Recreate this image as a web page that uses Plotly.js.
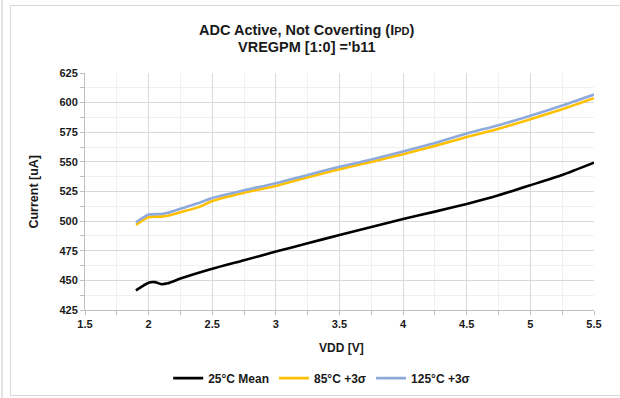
<!DOCTYPE html>
<html>
<head>
<meta charset="utf-8">
<script src="https://cdn.plot.ly/plotly-3.0.1.min.js"></script>
<style>
html,body{margin:0;padding:0;background:#fff;}
#wrap{position:relative;width:620px;height:398px;overflow:hidden;}
#strip{position:absolute;left:1px;top:0;width:2px;height:398px;background:#e2e2e2;}
#frame{position:absolute;left:10px;top:5px;width:640px;height:389px;border:1px solid #d9d9d9;}
#chart{position:absolute;left:0;top:0;width:620px;height:398px;}
</style>
</head>
<body>
<div id="wrap">
<div id="strip"></div>
<div id="frame"></div>
<div id="chart"></div>
</div>
<script>
const vdd25 = [1.9, 2.0, 2.05, 2.1, 2.15, 2.25, 2.5, 2.75, 3.0, 3.25, 3.5, 3.75, 4.0, 4.25, 4.5, 4.75, 5.0, 5.25, 5.5];
const mean25 = [441.5, 448, 448.5, 446.8, 447.5, 451.5, 459.8, 467, 474.3, 481.3, 488.3, 495, 501.8, 508, 514.5, 521.8, 530.3, 539, 549.4];

const vddHot = [1.9, 1.95, 2.0, 2.1, 2.15, 2.25, 2.4, 2.5, 2.75, 3.0, 3.25, 3.5, 3.75, 4.0, 4.25, 4.5, 4.75, 5.0, 5.25, 5.5];
const sig85 = [496.8, 500.5, 503.5, 503.8, 504.5, 507.5, 512, 517, 524, 529.7, 537, 543.8, 550, 556.5, 563.5, 571, 578, 586, 594.5, 603.8];
const sig125 = [499, 502.5, 505.5, 506, 507, 510.5, 515.5, 519.5, 526, 532, 539, 545.8, 552, 558.7, 566, 574, 581, 589, 597.5, 606.8];

const seriesNames = ["25°C Mean", "85°C +3σ", "125°C +3σ"];
const xTicks = [1.5, 2, 2.5, 3, 3.5, 4, 4.5, 5, 5.5];
const yTicks = [425, 450, 475, 500, 525, 550, 575, 600, 625];
const titleLines = ["ADC Active, Not Coverting (I<span style='font-size:11px'>PD</span>)", "VREGPM [1:0] ='b11"];
const xTitle = "VDD [V]";
const yTitle = "Current [uA]";

const FONT = "'Liberation Sans', Arial, sans-serif";
const txt = "#1a1a1a";

const traces = [
  {x: vdd25, y: mean25, name: seriesNames[0], mode: "lines",
   line: {color: "#000000", width: 2.6, shape: "spline", smoothing: 0.6}},
  {x: vddHot, y: sig85, name: seriesNames[1], mode: "lines",
   line: {color: "#FFC000", width: 2.6, shape: "spline", smoothing: 0.6}},
  {x: vddHot, y: sig125, name: seriesNames[2], mode: "lines",
   line: {color: "#8EA9DB", width: 2.6, shape: "spline", smoothing: 0.6}}
];

function ann(text, x, y, size, angle) {
  return {text: "<b>" + text + "</b>", xref: "paper", yref: "paper", x: x, y: y,
    xanchor: "center", yanchor: "middle", showarrow: false, textangle: angle || 0,
    font: {family: FONT, size: size, color: txt}};
}

const layout = {
  width: 620, height: 398,
  margin: {l: 85, r: 26, t: 73, b: 88},
  paper_bgcolor: "rgba(0,0,0,0)",
  plot_bgcolor: "rgba(0,0,0,0)",
  font: {family: FONT, color: txt},
  annotations: [
    ann(titleLines[0], 0.436, 1.181, 14.5),
    ann(titleLines[1], 0.436, 1.11, 14.5),
    ann(xTitle, 0.503, -0.16, 12),
    ann(yTitle, -0.102, 0.5, 12.5, -90)
  ],
  xaxis: {
    range: [1.5, 5.5],
    tickvals: xTicks,
    ticktext: xTicks.map(String),
    automargin: false,
    showgrid: true, gridcolor: "#d9d9d9", gridwidth: 1,
    minor: {dtick: 0.25, showgrid: true, gridcolor: "#f0f0f0", ticks: "outside", ticklen: 4, tickcolor: "#bfbfbf"},
    ticks: "outside", ticklen: 4, tickcolor: "#bfbfbf",
    showline: true, linecolor: "#bfbfbf", linewidth: 1,
    zeroline: false,
    tickfont: {family: FONT, size: 11, color: txt, weight: "bold"}
  },
  yaxis: {
    range: [425, 625],
    tickvals: yTicks,
    ticktext: yTicks.map(String),
    automargin: false,
    showgrid: true, gridcolor: "#d9d9d9", gridwidth: 1,
    minor: {dtick: 12.5, showgrid: true, gridcolor: "#f0f0f0", ticks: "outside", ticklen: 4, tickcolor: "#bfbfbf"},
    ticks: "outside", ticklen: 4, tickcolor: "#bfbfbf",
    showline: true, linecolor: "#bfbfbf", linewidth: 1,
    zeroline: false,
    tickfont: {family: FONT, size: 11, color: txt, weight: "bold"}
  },
  showlegend: true,
  legend: {
    orientation: "h",
    x: 0.465, xref: "paper", xanchor: "center",
    y: 0.05, yref: "container", yanchor: "middle",
    font: {family: FONT, size: 12, color: txt, weight: "bold"},
    itemwidth: 30,
    bgcolor: "rgba(0,0,0,0)"
  }
};

Plotly.newPlot("chart", traces, layout, {displayModeBar: false, staticPlot: true});
</script>
</body>
</html>
